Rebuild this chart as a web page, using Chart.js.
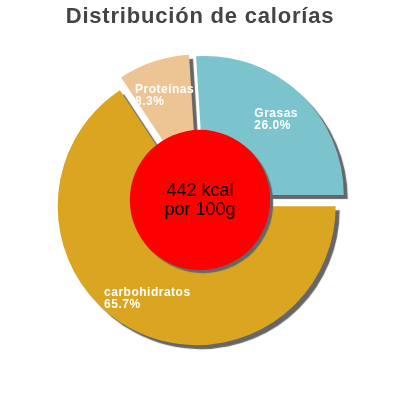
<!DOCTYPE html>
<html>
<head>
<meta charset="utf-8">
<script src="https://cdn.jsdelivr.net/npm/chart.js@4.4.0/dist/chart.umd.min.js"></script>
<style>
  html, body { margin: 0; padding: 0; background: #fff; }
  #wrap { width: 400px; height: 400px; }
</style>
</head>
<body>
<div id="wrap"><canvas id="calChart"></canvas></div>
<script>
// data
const sliceLabels = ['carbohidratos', 'Proteínas', 'Grasas'];
const slicePercents = [65.7, 8.3, 26.0];
const sliceColors = ['#daa520', '#edc594', '#7cc4cd'];
const centerLines = ['442 kcal', 'por 100g'];
const titleText = 'Distribución de calorías';

const FONT = '"Liberation Sans", Arial, sans-serif';
const PULL = 7;        // px each slice is pulled out from the middle
const SHADOW = '#666';

function midDir(arc) {
    const mid = (arc.startAngle + arc.endAngle) / 2;
    return { dx: Math.cos(mid), dy: Math.sin(mid) };
}

// exploded slices with a hard drop shadow, labels and the red centre disc
const explodePlugin = {
    id: 'explode',
    beforeDraw(chart) {
        chart.ctx.letterSpacing = '0.8px'; // only used by the title
    },
    beforeDatasetsDraw(chart) {
        chart.ctx.letterSpacing = '0px';
    },
    beforeDatasetDraw(chart, args) {
        const ctx = chart.ctx;
        args.meta.data.forEach(arc => {
            const d = midDir(arc);
            ctx.save();
            ctx.shadowColor = SHADOW;
            ctx.shadowOffsetX = 4;
            ctx.shadowOffsetY = 4;
            ctx.shadowBlur = 1;
            ctx.translate(d.dx * PULL, d.dy * PULL);
            arc.draw(ctx);
            ctx.restore();
        });
        return false;
    },
    afterDatasetsDraw(chart) {
        const ctx = chart.ctx;
        const arcs = chart.getDatasetMeta(0).data;
        const cx = arcs[0].x, cy = arcs[0].y, R = arcs[0].outerRadius;

        // --- slice labels ---
        ctx.save();
        ctx.fillStyle = '#fff';
        ctx.font = 'bold 12px ' + FONT;
        ctx.letterSpacing = '0.5px';
        ctx.textAlign = 'left';
        ctx.textBaseline = 'alphabetic';
        arcs.forEach((arc, i) => {
            const d = midDir(arc);
            const r = R * 0.75 + PULL;
            const lx = cx + d.dx * r, ly = cy + d.dy * r;
            const lines = [sliceLabels[i], slicePercents[i].toFixed(1) + '%'];
            const w = Math.max(...lines.map(t => ctx.measureText(t).width));
            ctx.fillText(lines[0], lx - w / 2, ly - 2);
            ctx.fillText(lines[1], lx - w / 2, ly + 10);
        });
        ctx.restore();

        // --- centre disc ---
        ctx.save();
        ctx.shadowColor = SHADOW;
        ctx.shadowOffsetX = 3;
        ctx.shadowOffsetY = 3;
        ctx.shadowBlur = 1;
        ctx.fillStyle = '#ff0000';
        ctx.beginPath();
        ctx.arc(cx, cy, R * 0.505, 0, Math.PI * 2);
        ctx.fill();
        ctx.restore();

        ctx.save();
        ctx.fillStyle = '#000';
        ctx.font = '18px ' + FONT;
        ctx.textAlign = 'center';
        ctx.textBaseline = 'alphabetic';
        ctx.fillText(centerLines[0], cx, cy - 4);
        ctx.fillText(centerLines[1], cx, cy + 15);
        ctx.restore();
    }
};

new Chart(document.getElementById('calChart'), {
    type: 'pie',
    data: {
        labels: sliceLabels,
        datasets: [{
            data: slicePercents,
            backgroundColor: sliceColors,
            borderWidth: 0,
            clip: false
        }]
    },
    options: {
        responsive: true,
        maintainAspectRatio: false,
        animation: false,
        events: [],
        rotation: 90, // carbs start at 3 o'clock
        layout: { padding: { bottom: 61 } },
        plugins: {
            legend: { display: false },
            tooltip: { enabled: false },
            title: {
                display: true,
                text: titleText,
                color: '#444',
                font: { family: FONT, size: 22, weight: 'bold' },
                padding: { top: 4, bottom: 30.6 }
            }
        }
    },
    plugins: [explodePlugin]
});
</script>
</body>
</html>
